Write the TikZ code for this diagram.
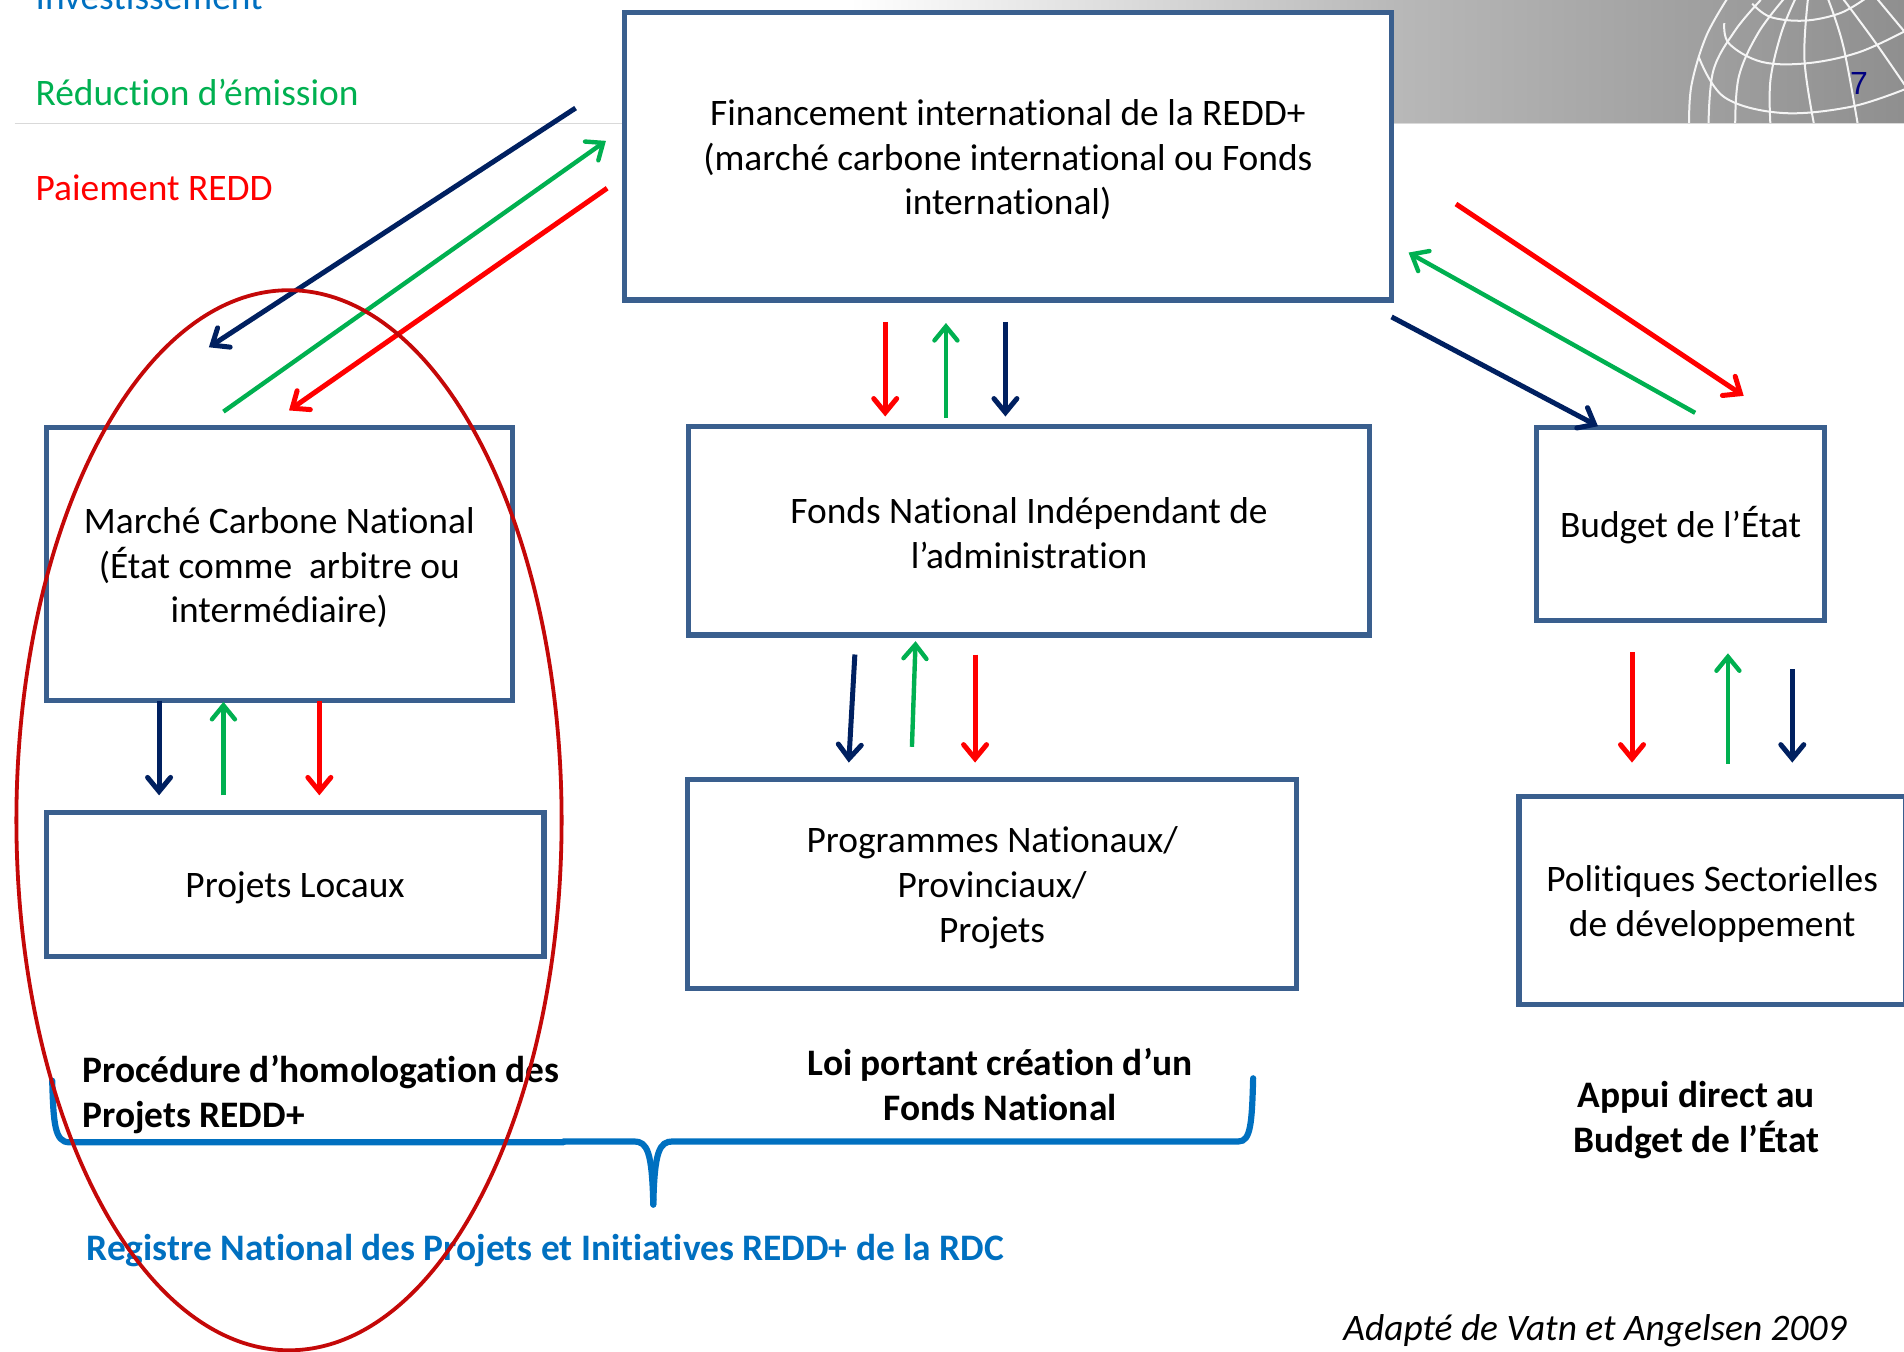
\documentclass[tikz,border=0pt]{standalone}
\usepackage{fontspec}
\setmainfont[Ligatures=NoCommon]{Carlito}
\newfontfamily\arialfont{Liberation Sans}
\usetikzlibrary{arrows.meta,shapes.geometric}
\definecolor{boxblue}{HTML}{3A5F8E}
\definecolor{navyflow}{HTML}{002060}
\definecolor{greenflow}{HTML}{00B050}
\definecolor{redflow}{HTML}{FF0000}
\definecolor{braceblue}{HTML}{0070C0}
\definecolor{ringred}{HTML}{C40808}
\definecolor{pagenavy}{HTML}{000080}
\definecolor{bandmid}{HTML}{B8B8B8}
\definecolor{bandend}{HTML}{8F8F8F}
\newcommand{\flowline}[4]{\coordinate (#1s) at (#2); \coordinate (#1e) at (#3); \draw[#4] (#1s) -- (#1e);}
\tikzset{
  x=0.6071pt, y=-0.6071pt,
  boxnode/.style 2 args={draw=boxblue, fill=white, line width=2.6pt, rectangle, inner sep=0pt,
     minimum width=#1*0.6071pt, minimum height=#2*0.6071pt},
  boxtext/.style={inner sep=0pt, align=center, font=\fontsize{18.7}{22.46}\selectfont},
  flow/.style={line width=2.5pt, -{Straight Barb[length=7pt,width=11.5pt,line cap=round]}},
  flownavy/.style={flow, draw=navyflow},
  flowgreen/.style={flow, line width=2.2pt, draw=greenflow},
  flowred/.style={flow, draw=redflow},
  legend/.style={anchor=base west, inner sep=0pt, font=\fontsize{18.7}{22.46}\selectfont},
  boldlabel/.style={inner sep=0pt, align=center, font=\fontsize{18.7}{22.46}\selectfont\bfseries},
  gridline/.style={draw=white!92!gray, line width=1pt},
  bracestroke/.style={draw=braceblue, line width=3.1pt, line cap=round},
}
\begin{document}
\begin{tikzpicture}
\useasboundingbox (0,0) rectangle (1568,1113.4);
% header band
\shade[left color=white, right color=bandmid] (700,0) rectangle (1150.5,101);
\shade[left color=bandmid, right color=bandend] (1150,0) rectangle (1568,101);
\draw[draw=black!15, line width=0.6pt] (12,102) -- (1568,102);
\begin{scope}
\clip (1380,0) rectangle (1568,101);
\foreach \pts in {
 {(1423,-2) (1405,30) (1393,70) (1391,103)},
 {(1399,47) (1420,80) (1467,93) (1524,88) (1570,73)},
 {(1420,19) (1424,36) (1451,51) (1489,52) (1531,43) (1570,25)},
 {(1443,3) (1458,14) (1486,17) (1515,11) (1536,-1)},
 {(1429,103) (1432,63) (1448,27) (1470,-2)},
 {(1407,103) (1411,58) (1429,25) (1450,0)},
 {(1458,103) (1458,66) (1467,27) (1479,-2)},
 {(1494,103) (1486,49) (1489,-2)},
 {(1530,103) (1518,38) (1505,-2)},
 {(1570,72) (1543,33) (1517,-2)},
 {(1570,28) (1545,-2)}}
 {\draw[gridline] plot[smooth, tension=0.6] coordinates \pts;}
\end{scope}
\node[inner sep=0pt, text=pagenavy, font=\arialfont\fontsize{16}{18}\selectfont] (pagenum) at (1531,69) {7};
% legend
\node[legend, text=braceblue] (leginv) at (29,7.5) {Investissement};
\node[legend, text=greenflow] (legred) at (29,86.5) {Réduction d’émission};
\node[legend, text=redflow] (legpay) at (29,165.5) {Paiement REDD};
% boxes
\node[boxnode={632}{237}] (fin) at (830,128.5) {};
\node[boxnode={384}{225}] (marche) at (230,464.5) {};
\node[boxnode={561}{172}] (fonds) at (847.5,437) {};
\node[boxnode={237}{159}] (budget) at (1384,431.5) {};
\node[boxnode={410}{119}] (locaux) at (243,728.5) {};
\node[boxnode={502}{172}] (progs) at (817,728) {};
\node[boxnode={318}{171}] (polit) at (1410,741.5) {};
\node[boxtext] (fintext) at (830,131.5) {Financement international de la REDD+\\(marché carbone international ou Fonds\\international)};
\node[boxtext] (marchetext) at (230,467.5) {Marché Carbone National\\(État comme\ \ arbitre ou\\intermédiaire)};
\node[boxtext] (fondstext) at (847.5,439) {Fonds National Indépendant de\\l’administration};
\node[boxtext] (budgettext) at (1384,432.5) {Budget de l’État};
\node[boxtext] (locauxtext) at (243,731.5) {Projets Locaux};
\node[boxtext] (progstext) at (817,731) {Programmes Nationaux/\\Provinciaux/\\Projets};
\node[boxtext] (polittext) at (1410,744.5) {Politiques Sectorielles\\de développement};
% flows
\flowline{a}{474,89}{172,286}{flownavy}
\flowline{b}{184,339}{499,116}{flowgreen}
\flowline{c}{500,155}{238,338}{flowred}
\flowline{d}{729,265}{729,343}{flowred}
\flowline{e}{779,344}{779,266}{flowgreen}
\flowline{f}{828,265}{828,343}{flownavy}
\flowline{g}{1199,168}{1436,326}{flowred}
\flowline{h}{1396,340}{1160,208}{flowgreen}
\flowline{i}{1146,261}{1316,351}{flownavy}
\flowline{j}{704,539}{699,628}{flownavy}
\flowline{k}{751,615}{754,528}{flowgreen}
\flowline{l}{803,539}{803,628}{flowred}
\flowline{m}{1344,537}{1344,628}{flowred}
\flowline{n}{1423,629}{1423,538}{flowgreen}
\flowline{o}{1476,551}{1476,628}{flownavy}
\flowline{p}{131,577}{131,655}{flownavy}
\flowline{q}{184,655}{184,578}{flowgreen}
\flowline{r}{263,577}{263,655}{flowred}
% labels
\node[boldlabel, align=left, anchor=north west] (homolog) at (67.5,868.5) {Procédure d’homologation des\\Projets REDD+};
\node[boldlabel] (loi) at (823.5,893.5) {Loi portant création d’un\\Fonds National};
\node[boldlabel] (appui) at (1397,922.5) {Appui direct au\\Budget de l’État};
\node[boldlabel, text=braceblue] (registre) at (449,1029.5) {Registre National des Projets et Initiatives REDD+ de la RDC};
\node[inner sep=0pt, font=\fontsize{18.7}{22.46}\selectfont\itshape] (adapte) at (1313.5,1096) {Adapté de Vatn et Angelsen 2009};
% brace
\draw[bracestroke] (43,890) .. controls (44,925) and (45,940.7) .. (57,940.7) -- (464,940.7);
\draw[bracestroke] (464,940) -- (522,940) .. controls (533,940) and (537,948) .. (538,992);
\draw[bracestroke] (1032,888) .. controls (1031,925) and (1030,940) .. (1020,940) -- (554,940) .. controls (543,940) and (539,948) .. (538,992);
% ring
\node[ellipse, draw=ringred, line width=1.9pt, inner sep=0pt, minimum width=449*0.6071pt, minimum height=873*0.6071pt] (ring) at (238,675.5) {};
\end{tikzpicture}
\end{document}
